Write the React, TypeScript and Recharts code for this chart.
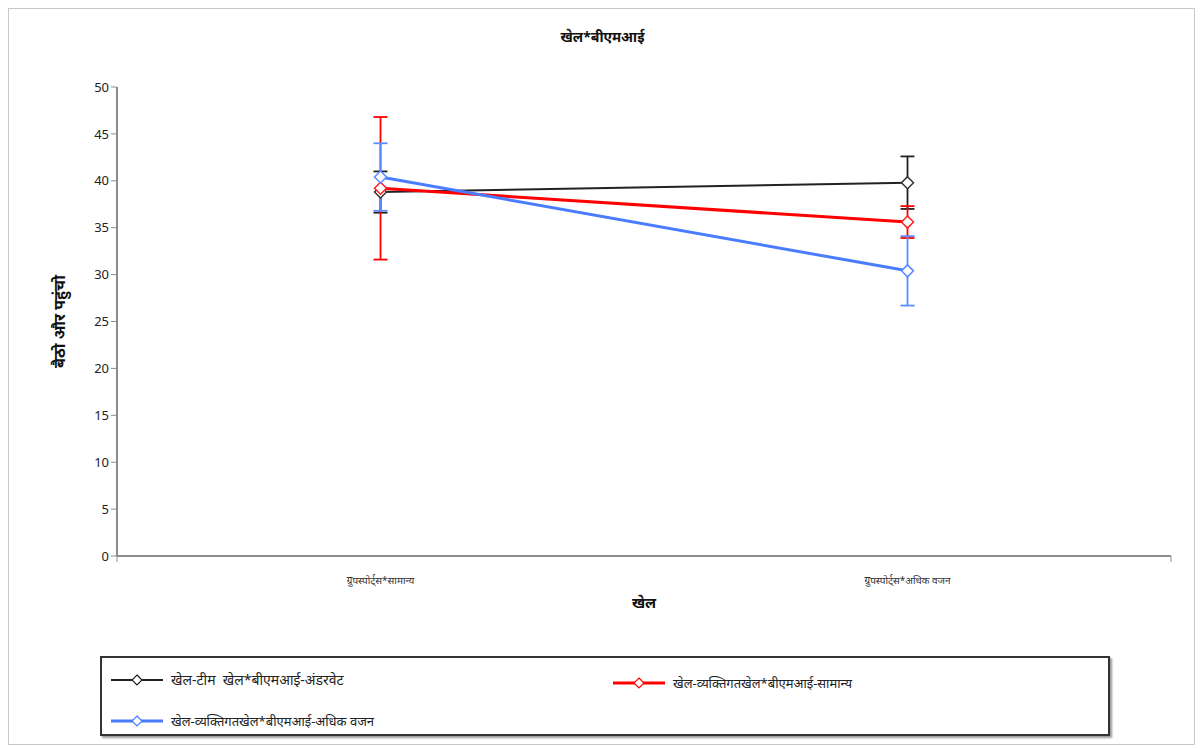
import { LineChart, Line, XAxis, YAxis, ErrorBar } from 'recharts'

const categories = ['ग्रुपस्पोर्ट्स*सामान्य', 'ग्रुपस्पोर्ट्स*अधिक वजन']
const teamUnder = [38.8, 39.8]
const teamUnderErr = [2.2, 2.8]
const indivNormal = [39.2, 35.6]
const indivNormalErr = [7.6, 1.7]
const indivOver = [40.4, 30.4]
const indivOverErr = [3.6, 3.7]
const yTicks = [0, 5, 10, 15, 20, 25, 30, 35, 40, 45, 50]
const bandTicks = [0, 1, 2]

const seriesNames = [
  'खेल-टीम  खेल*बीएमआई-अंडरवेट',
  'खेल-व्यक्तिगतखेल*बीएमआई-सामान्य',
  'खेल-व्यक्तिगतखेल*बीएमआई-अधिक वजन',
]

const data = categories.map((c, i) => ({
  cat: c,
  a: teamUnder[i],
  aErr: teamUnderErr[i],
  b: indivNormal[i],
  bErr: indivNormalErr[i],
  c: indivOver[i],
  cErr: indivOverErr[i],
}))

const font = '"Noto Sans", "DejaVu Sans", sans-serif'

function Diamond(color: string) {
  return (props: any) => {
    const { cx, cy, index } = props
    if (cx == null || cy == null) return <g key={index} />
    const r = 6
    return (
      <path
        key={index}
        d={`M${cx},${cy - r}L${cx + r},${cy}L${cx},${cy + r}L${cx - r},${cy}Z`}
        fill="#fff"
        stroke={color}
        strokeWidth={1.5}
      />
    )
  }
}

function LegendItem({ color, width, label, x, y, size }: { color: string; width: number; label: string; x: number; y: number; size: number }) {
  return (
    <div style={{ position: 'absolute', left: x, top: y, display: 'flex', alignItems: 'center', fontFamily: font, fontSize: size, color: '#222' }}>
      <svg width={54} height={14} style={{ marginRight: 6 }}>
        <line x1={0} y1={7} x2={52} y2={7} stroke={color} strokeWidth={width} />
        <path d="M26,2L31,7L26,12L21,7Z" fill="#fff" stroke={color} strokeWidth={1.2} />
      </svg>
      <span style={{ whiteSpace: 'pre' }}>{label}</span>
    </div>
  )
}

export default function App() {
  return (
    <div style={{ position: 'relative', width: 1187, height: 737, border: '1px solid #c8c8c8', boxSizing: 'border-box', background: '#fff' }}>
      <div style={{ position: 'absolute', left: 0, width: 1187, top: 18, textAlign: 'center', fontFamily: font, fontWeight: 'bold', fontSize: 14, color: '#111' }}>
        खेल*बीएमआई
      </div>
      <LineChart width={1187} height={737} data={data} margin={{ top: 78, right: 25, left: 48, bottom: 150 }}>
        <XAxis
          xAxisId="axis"
          type="number"
          domain={[0, 2]}
          ticks={bandTicks}
          tick={() => <g />}
          height={1}
          axisLine={{ stroke: '#8c8c8c', strokeWidth: 2 }}
          tickLine={{ stroke: '#8c8c8c', strokeWidth: 1 }}
          tickSize={6}
        />
        <XAxis
          xAxisId="labels"
          dataKey="cat"
          scale="band"
          axisLine={false}
          tickLine={false}
          height={39}
          tick={{ fontSize: 10, fill: '#333', fontFamily: font }}
          tickMargin={14}
          label={{ value: 'खेल', position: 'insideBottom', offset: -12, style: { fontWeight: 'bold', fontSize: 15, fill: '#111', fontFamily: font } }}
        />
        <YAxis
          domain={[0, 50]}
          ticks={yTicks}
          width={60}
          axisLine={{ stroke: '#8c8c8c', strokeWidth: 2 }}
          tickLine={{ stroke: '#8c8c8c' }}
          tickSize={6}
          tick={{ fontSize: 13, fill: '#222', fontFamily: font }}
          label={{ value: 'बैठो और पहुंचो', angle: -90, position: 'insideLeft', offset: 2, style: { textAnchor: 'middle', fontWeight: 'bold', fontSize: 16, fill: '#111', fontFamily: font } }}
        />
        <Line xAxisId="labels" dataKey="a" name={seriesNames[0]} stroke="#222" strokeWidth={2} dot={Diamond('#333')} isAnimationActive={false}>
          <ErrorBar dataKey="aErr" stroke="#222" strokeWidth={1.8} width={7} isAnimationActive={false} />
        </Line>
        <Line xAxisId="labels" dataKey="b" name={seriesNames[1]} stroke="#ff0000" strokeWidth={3} dot={Diamond('#ff2020')} isAnimationActive={false}>
          <ErrorBar dataKey="bErr" stroke="#ff0000" strokeWidth={1.8} width={7} isAnimationActive={false} />
        </Line>
        <Line xAxisId="labels" dataKey="c" name={seriesNames[2]} stroke="#4a7cff" strokeWidth={3} dot={Diamond('#5a8aff')} isAnimationActive={false}>
          <ErrorBar dataKey="cErr" stroke="#5b8cff" strokeWidth={1.8} width={7} isAnimationActive={false} />
        </Line>
      </LineChart>
      <div style={{ position: 'absolute', left: 91, top: 647, width: 1010, height: 80, border: '2px solid #333', boxSizing: 'border-box', boxShadow: '2px 2px 2px #999' }}>
        <LegendItem color="#222" width={2} label={seriesNames[0]} x={9} y={12} size={14} />
        <LegendItem color="#ff0000" width={3} label={seriesNames[1]} x={511} y={16} size={13} />
        <LegendItem color="#4a7cff" width={3} label={seriesNames[2]} x={9} y={54} size={13} />
      </div>
    </div>
  )
}
